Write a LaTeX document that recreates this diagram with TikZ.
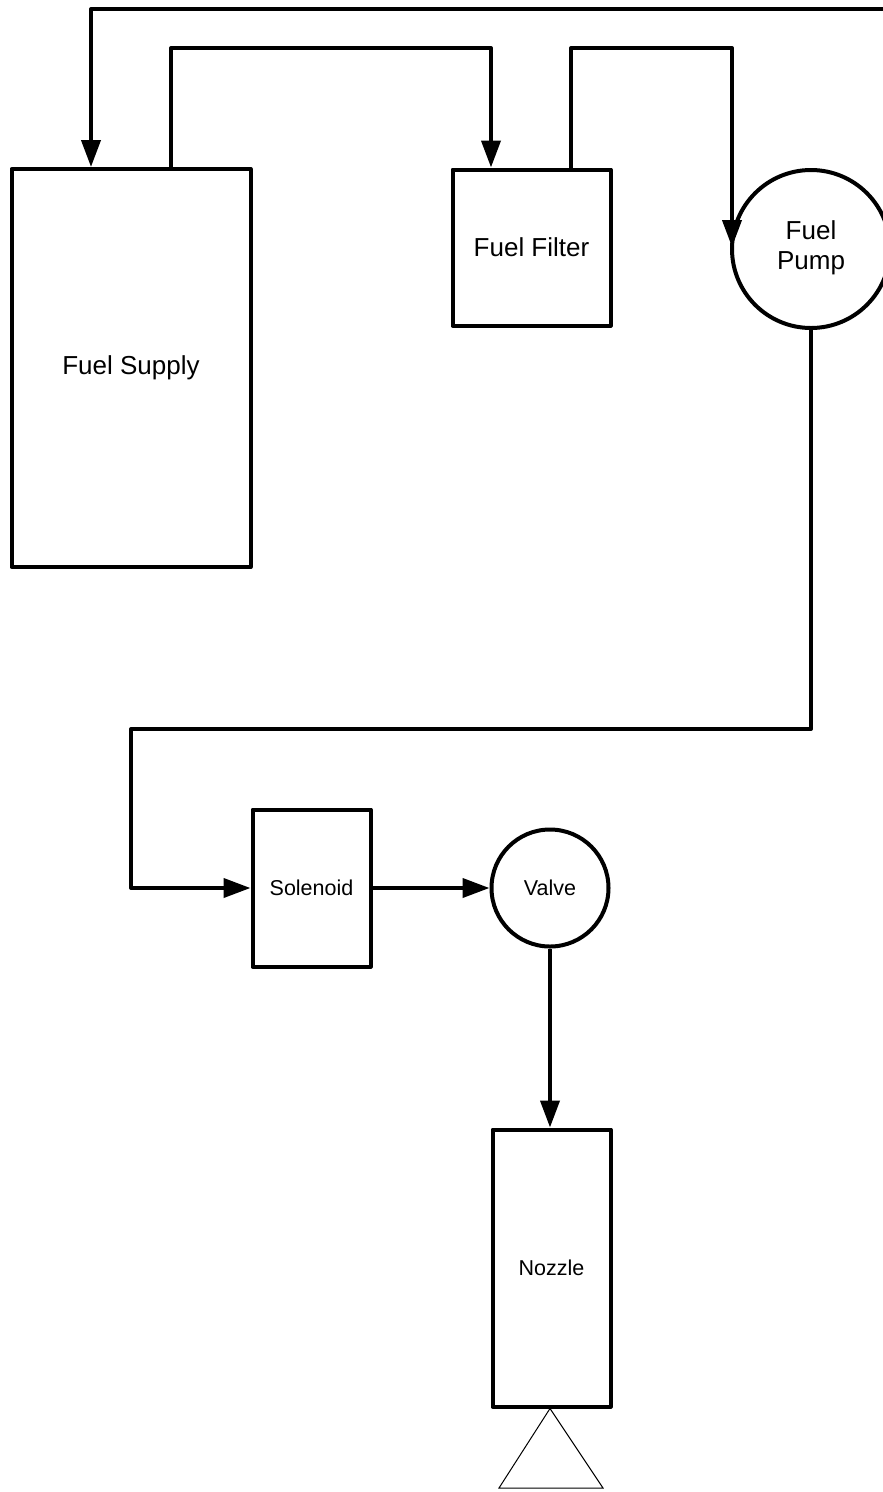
\documentclass[tikz,border=0pt]{standalone}
\usepackage{fontspec}
\setmainfont{Liberation Sans}
\usetikzlibrary{arrows.meta}
\tikzset{
  box/.style={draw=black, line width=4pt, rectangle, inner sep=0pt, line join=round, align=center},
  roundbox/.style={draw=black, line width=4pt, circle, inner sep=0pt, align=center},
  bigtext/.style={font=\fontsize{26}{30}\selectfont},
  smalltext/.style={font=\fontsize{21.5}{25}\selectfont},
  flow/.style={draw=black, line width=4pt, line join=round},
  flowarrow/.style={flow, -{Triangle[length=27pt,width=19pt]}},
  nozzletip/.style={draw=black, line width=1pt, line join=miter}
}
\begin{document}
\begin{tikzpicture}[x=1pt,y=-1pt]
\useasboundingbox (0,0) rectangle (883,1492);
% nodes
\node[box, bigtext, minimum width=239pt, minimum height=398pt] (supply) at (131,368) {Fuel Supply};
\node[box, bigtext, minimum width=158pt, minimum height=156pt] (filter) at (531.5,247.5) {Fuel Filter};
\node[roundbox, minimum size=158pt] (pump) at (811,249) {};
\node[bigtext, align=center, inner sep=0pt] (pumptext) at (811,248) {Fuel\\Pump};
\node[box, smalltext, minimum width=118pt, minimum height=157pt] (sol) at (311.5,888) {Solenoid};
\node[roundbox, smalltext, minimum size=117pt] (valve) at (550,888) {Valve};
\node[box, smalltext, minimum width=118pt, minimum height=277pt] (nozzle) at (551.5,1268) {Nozzle};
% coordinates
\coordinate (ret) at (900,9);
\coordinate (r1) at (91,9);
\coordinate (s1) at (171,48);
\coordinate (f1) at (491,48);
\coordinate (g1) at (571,48);
\coordinate (g2) at (732,48);
\coordinate (g3) at (732,247);
\coordinate (p1) at (811,729);
\coordinate (p2) at (131,729);
\coordinate (p3) at (131,888);
\coordinate (tl) at (499,1488);
\coordinate (tr) at (603,1488);
% connectors
\draw[flowarrow] (ret) -- (r1) -- (supply.north -| r1);
\draw[flowarrow] (supply.north -| s1) -- (s1) -- (f1) -- (filter.north -| f1);
\draw[flowarrow] (filter.north -| g1) -- (g1) -- (g2) -- (g3);
\draw[flowarrow] (pump.south) -- (p1) -- (p2) -- (p3) -- (sol.west);
\draw[flowarrow] (sol.east) -- (valve.west);
\draw[flowarrow] (valve.south) -- (nozzle.north -| valve.south);
% nozzle tip
\draw[nozzletip] (nozzle.south -| valve.south) -- (tl) -- (tr) -- cycle;
\end{tikzpicture}
\end{document}
